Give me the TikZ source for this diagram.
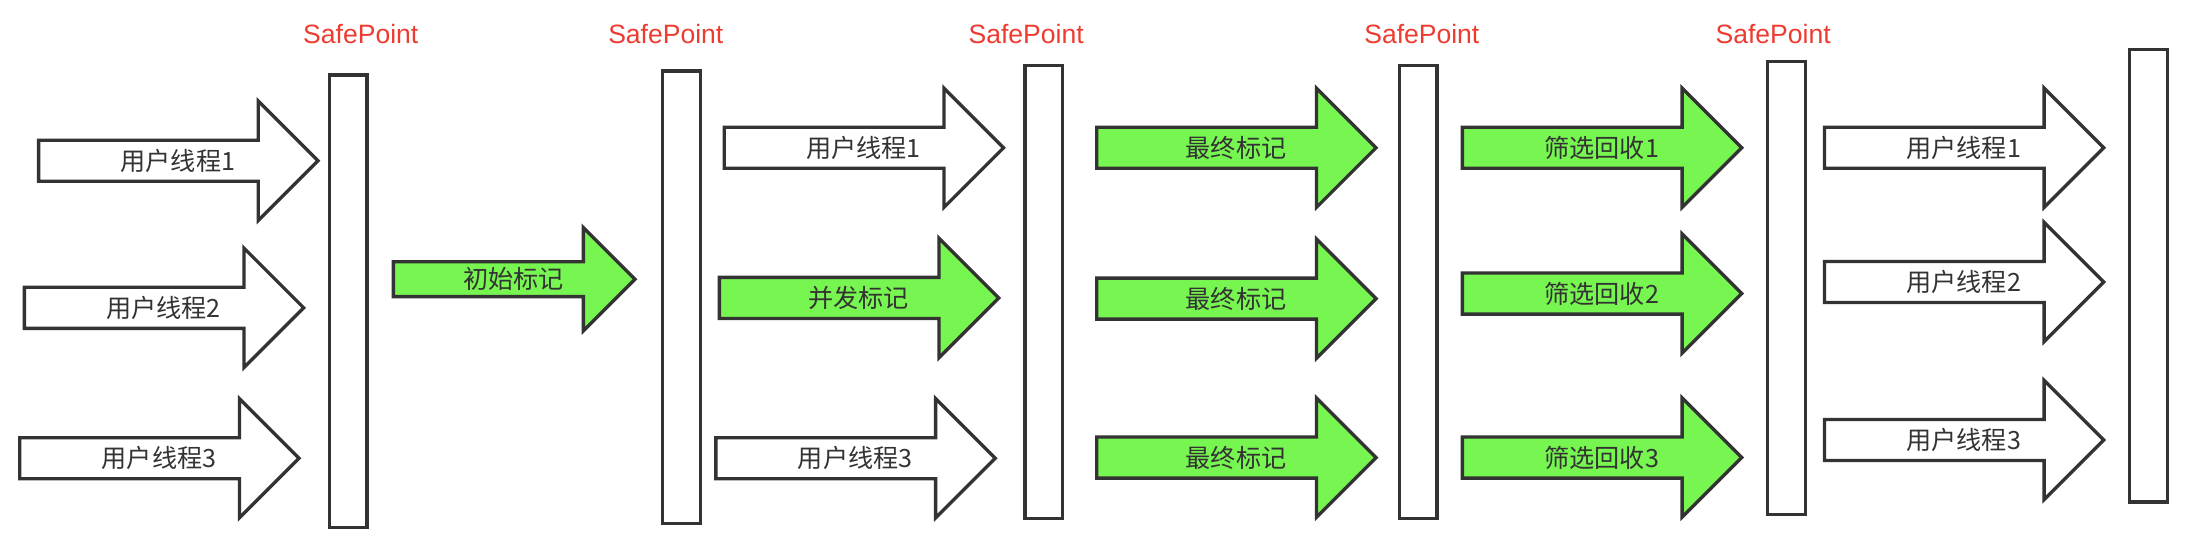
\documentclass[tikz,border=0pt]{standalone}
\usepackage{fontspec}
\setmainfont{Noto Sans CJK SC}
\newfontfamily\latinfont{Liberation Sans}
\usepackage{tikz}
\usetikzlibrary{shapes.arrows}

\definecolor{edgec}{HTML}{333333}
\definecolor{markc}{HTML}{77F550}
\definecolor{safec}{HTML}{EE3B30}

\begin{document}
\begin{tikzpicture}[x=1pt,y=-1pt,
    blockarrow/.style={single arrow, draw=edgec, fill=white, line width=2.4pt, text=edgec,
        single arrow head extend=28pt, minimum height=200pt, inner xsep=0pt, inner ysep=0pt,
        text height=20.3pt, text depth=6.7pt, font=\fontsize{18}{18}\selectfont},
    thread/.style={blockarrow, xshift=-7.1pt, execute at begin node=\hspace*{14.2pt}},
    markstep/.style={thread, fill=markc},
    initmark/.style={blockarrow, fill=markc, single arrow head extend=24.5pt, minimum height=173pt,
        text height=18.1pt, text depth=4.5pt, xshift=-5.8pt, execute at begin node=\hspace*{11.6pt}},
    bar/.style={rectangle, draw=edgec, fill=white, line width=2.4pt, minimum width=27pt, minimum height=324pt, inner sep=0pt},
    safe/.style={text=safec, font=\latinfont\fontsize{19}{19}\selectfont, inner sep=0pt}]

    \useasboundingbox (0,0) rectangle (1568,396.7);

    \node[safe] (sp1) at (258.3,24) {SafePoint};
    \node[safe] (sp2) at (476.7,24) {SafePoint};
    \node[safe] (sp3) at (734.7,24) {SafePoint};
    \node[safe] (sp4) at (1018,24) {SafePoint};
    \node[safe] (sp5) at (1269.5,24) {SafePoint};

    \node[bar] (bar1) at (249.2,215.6) {};
    \node[bar] (bar2) at (488,212.8) {};
    \node[bar] (bar3) at (747.4,209) {};
    \node[bar] (bar4) at (1015.3,209) {};
    \node[bar] (bar5) at (1279,206.2) {};
    \node[bar] (bar6) at (1538.3,197.4) {};

    % before the first safepoint
    \node[thread] (u11) at (127.4,115.1) {用户线程1};
    \node[thread] (u12) at (117.2,220.4) {用户线程2};
    \node[thread] (u13) at (113.9,328.1) {用户线程3};

    \node[initmark] (init) at (367.7,199.9) {初始标记};

    \node[thread] (u21) at (618.3,105.8) {用户线程1};
    \node[markstep] (conc) at (614.8,213.3) {并发标记};
    \node[thread] (u23) at (612.3,328.1) {用户线程3};

    \node[markstep] (fin1) at (885,105.8) {最终标记};
    \node[markstep] (fin2) at (885,213.8) {最终标记};
    \node[markstep] (fin3) at (885,327.6) {最终标记};

    \node[markstep] (gc1) at (1146.8,105.8) {筛选回收1};
    \node[markstep] (gc2) at (1146.8,210.2) {筛选回收2};
    \node[markstep] (gc3) at (1146.8,327.6) {筛选回收3};

    \node[thread] (u31) at (1406,105.8) {用户线程1};
    \node[thread] (u32) at (1406,201.9) {用户线程2};
    \node[thread] (u33) at (1406,315) {用户线程3};

\end{tikzpicture}
\end{document}
